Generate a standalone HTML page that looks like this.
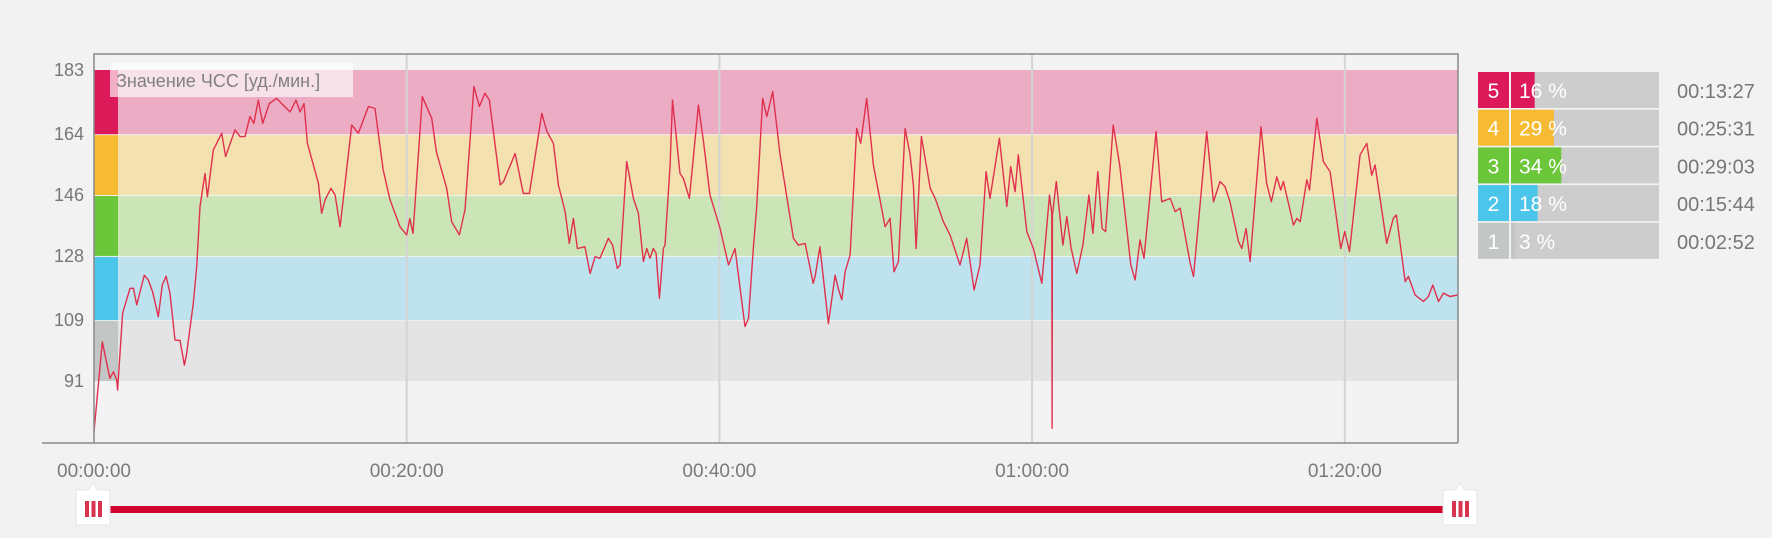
<!DOCTYPE html>
<html><head><meta charset="utf-8"><style>
html,body{margin:0;padding:0;background:#f2f2f2;}
svg{display:block;font-family:"Liberation Sans","Noto Sans CJK JP",sans-serif;}
</style></head><body>
<svg id="c" width="1772" height="538" viewBox="0 0 1772 538" xmlns="http://www.w3.org/2000/svg">
<rect width="1772" height="538" fill="#f2f2f2"/>
<g id="plot"></g>
<g id="legend"></g>
<g id="slider">
<rect x="110" y="506" width="1335" height="7" fill="#d0052f"/>
<g>
<path d="M76,490 L88,490 L93,483 L98,490 L110,490 L110,525 L76,525 Z" fill="#fff" stroke="#e4e4e4" stroke-width="1"/>
<rect x="85" y="501" width="4" height="16" fill="#d7354f"/><rect x="91.5" y="501" width="4" height="16" fill="#d7354f"/><rect x="98" y="501" width="4" height="16" fill="#d7354f"/>
</g>
<g>
<path d="M1443,490 L1455,490 L1460,483 L1465,490 L1477,490 L1477,525 L1443,525 Z" fill="#fff" stroke="#e4e4e4" stroke-width="1"/>
<rect x="1452" y="501" width="4" height="16" fill="#d7354f"/><rect x="1458.5" y="501" width="4" height="16" fill="#d7354f"/><rect x="1465" y="501" width="4" height="16" fill="#d7354f"/>
</g>
</g>
</svg>
<script>
const minutes=[0,0.53,1.02,1.24,1.45,1.51,1.83,2.30,2.52,2.73,3.22,3.48,3.75,4.11,4.37,4.61,4.86,5.18,5.50,5.78,5.93,6.35,6.57,6.78,7.10,7.25,7.63,8.17,8.42,9.02,9.34,9.66,9.98,10.23,10.51,10.79,11.21,11.68,12.11,12.54,12.92,13.18,13.43,13.65,14.35,14.56,14.78,15.16,15.42,15.74,16.48,16.91,17.55,17.97,18.5,18.93,19.57,20.0,20.2,20.4,21.0,21.6,21.9,22.56,22.88,23.37,23.73,24.3,24.65,25.0,25.29,25.98,26.2,26.93,27.46,27.85,28.64,28.97,29.38,29.7,30.13,30.4,30.66,30.92,31.4,31.73,32.05,32.36,32.9,33.17,33.47,33.65,34.07,34.5,34.82,35.14,35.35,35.56,35.77,35.95,36.16,36.42,36.52,36.85,37.0,37.48,37.7,38.08,38.66,38.98,39.4,40.04,40.58,41.0,41.64,41.86,42.17,42.38,42.77,43.03,43.41,43.88,44.73,45.05,45.48,46.0,46.12,46.43,46.97,47.4,47.6,47.83,48.04,48.36,48.78,49.04,49.42,49.85,50.6,50.92,51.17,51.45,51.88,52.2,52.41,52.58,52.92,53.48,53.8,54.33,54.75,55.39,55.82,56.29,56.67,57.06,57.31,57.91,58.38,58.63,58.91,59.12,59.66,60.08,60.62,61.11,61.26,61.28,61.30,61.55,61.97,62.22,62.5,62.86,63.25,63.63,63.89,64.2,64.48,64.7,65.19,65.6,66.31,66.59,66.9,67.16,67.93,68.29,68.83,69.15,69.47,70.11,70.32,70.64,71.17,71.6,72.02,72.34,72.66,73.2,73.41,73.69,73.94,74.64,75.0,75.3,75.65,75.9,76.07,76.72,76.93,77.15,77.57,77.74,78.21,78.63,79.06,79.74,80.0,80.3,80.98,81.41,81.72,81.94,82.68,83.1,83.3,83.86,84.07,84.5,85.03,85.35,85.63,85.99,86.31,86.73,87.2];
const bpm=[76,102.6,91.8,93.7,91.3,88.3,111,118.4,118.4,113.5,122.3,120.8,117.4,110,119.4,122,116.9,103.1,103,95.7,99.2,114,124.8,142.6,152.4,145.5,159.3,164.3,157.4,165.3,163.3,163.3,169.2,167.2,174.1,167.2,173.1,174.6,172.6,170.6,174.1,170.6,173.1,161.3,149.5,140.6,144.6,148,146,136.6,166.7,164.3,172.2,171.6,153.4,144.6,136.6,134.2,139.1,134.7,175.1,168.7,158.8,148,138.1,134.2,141.6,178.1,172.2,176.1,174.1,149,150,158.3,146.5,146.5,170.2,164.8,161.3,149,141.1,131.7,139.1,130.2,130.7,122.8,127.8,127.3,133.2,131.2,124.3,125.3,155.9,145,140.6,126.3,130.2,127.3,130.2,128.8,115.4,130.2,131.2,154.9,174.1,152.4,150.9,145,172.6,161.8,146,136.2,125.3,130.2,107.1,109.5,130.2,142.1,174.6,169.2,176.6,157.9,133.2,131.2,131.7,119.9,121.9,130.7,108,122.3,118.4,115,123.3,128.3,165.7,161.3,174.6,154.9,136.6,139.1,123.3,126.3,165.7,157.9,149,130.2,163.3,148,145,138.1,134.2,125.3,133.2,117.9,125.3,152.9,145,162.8,142.6,154.4,147,157.9,135.2,130.2,119.9,146,140.6,77,140,150,131.2,139.6,130.2,122.8,131.2,146,134.7,152.9,136.1,135.2,166.7,154.9,125.3,120.9,132.7,127.3,164.8,144,145,141.1,142.1,125.8,121.9,138.1,164.8,144,150,148.5,144,132.2,130.2,136.1,126.3,166.2,149.5,144,151.4,147.5,150,137.1,139.1,138.1,150.5,147.5,168.7,155.9,152.9,130.2,135.2,129.3,157.9,161.3,151.9,154.9,131.7,139.1,140.1,120.4,121.9,116.4,114.5,116,119.4,114.5,117,116,116.4];
const yTicks=[183,164,146,128,109,91];
const xTickMinutes=[0,20,40,60,80];
const xTickLabels=["00:00:00","00:20:00","00:40:00","01:00:00","01:20:00"];
const zoneNames=["5","4","3","2","1"];
const zonePercents=[16,29,34,18,3];
const zoneTimes=["00:13:27","00:25:31","00:29:03","00:15:44","00:02:52"];

const NS="http://www.w3.org/2000/svg";
const X0=94,X1=1458,Y0=54,YB=443;
const xs=m=>X0+m*(312.7/20);
const ys=v=>70+(183-v)*3.38;
function el(t,a,p){const e=document.createElementNS(NS,t);for(const k in a)e.setAttribute(k,a[k]);p.appendChild(e);return e;}
const plot=document.getElementById('plot');
const bandFill=["#ecadc4","#f4e1b0","#cce5b6","#bfe3ee","#e3e4e3"];
const sideFill=["#dc1a5a","#f7bb33","#6cc63a","#4bc5ea","#c2c7c6"];
const pf=el('rect',{x:X0,y:Y0,width:X1-X0,height:YB-Y0,fill:'#f3f3f3'},plot);


for(let i=0;i<5;i++){
  const top=ys(yTicks[i]),bot=ys(yTicks[i+1]);
  const b=el('rect',{x:X0,y:top+(i?1:0),width:X1-X0,height:bot-top-(i?1:0),fill:bandFill[i]},plot);
  
  
  const s=el('rect',{x:X0,y:top+(i?1:0),width:24,height:bot-top-(i?1:0),fill:sideFill[i]},plot);
  
  
}
xTickMinutes.forEach((m,i)=>{
  if(m>0){const g=el('line',{x1:xs(m),x2:xs(m),y1:Y0,y2:YB,stroke:'#d4d4d4','stroke-width':2},plot);
  
  }
  const t=el('text',{x:xs(m),y:477,'text-anchor':'middle','font-size':19,fill:'#7a7a7a'},plot);
  t.textContent=xTickLabels[i];
  
  
});
yTicks.forEach(v=>{
  const t=el('text',{x:84,y:ys(v)+6,'text-anchor':'end','font-size':18,fill:'#777'},plot);
  t.textContent=v;
  
  
});
let d='';minutes.forEach((m,i)=>{d+=(i?'L':'M')+xs(m).toFixed(1)+','+ys(bpm[i]).toFixed(1);});
const ln=el('path',{d:d,fill:'none',stroke:'#e0304e','stroke-width':1.4,'stroke-linejoin':'round'},plot);


const fr=el('path',{d:`M${X0},${YB} L${X0},${Y0} L${X1},${Y0} L${X1},${YB}`,fill:'none',stroke:'#8a8a8a','stroke-width':1.5},plot);


const ax=el('line',{x1:42,x2:X1,y1:YB,y2:YB,stroke:'#8a8a8a','stroke-width':1.5},plot);


const lb=el('rect',{x:110,y:63,width:243,height:34,fill:'#ffffff','fill-opacity':0.65},plot);


const lt=el('text',{x:116,y:87,'font-size':18,fill:'#808080'},plot);
lt.textContent='Значение ЧСС [уд./мин.]';



const leg=document.getElementById('legend');
zoneNames.forEach((z,i)=>{
  const y=72+i*37.7,h=36;
  const nb=el('rect',{x:1478,y:y,width:31,height:h,fill:sideFill[i]},leg);
  
  
  const nt=el('text',{x:1493.5,y:y+26,'text-anchor':'middle','font-size':21,fill:'#fff'},leg);
  nt.textContent=z;
  
  
  const bg=el('rect',{x:1511,y:y,width:148,height:h,fill:'#cdcdcd'},leg);
  
  
  const fb=el('rect',{x:1511,y:y,width:148*zonePercents[i]/100,height:h,fill:sideFill[i]},leg);
  
  
  const pt=el('text',{x:1519,y:y+26,'font-size':21,fill:'#fff'},leg);
  pt.textContent=zonePercents[i]+' %';
  
  
  const tt=el('text',{x:1677,y:y+26,'font-size':20,fill:'#777'},leg);
  tt.textContent=zoneTimes[i];
  
  
});
</script>
</body></html>
